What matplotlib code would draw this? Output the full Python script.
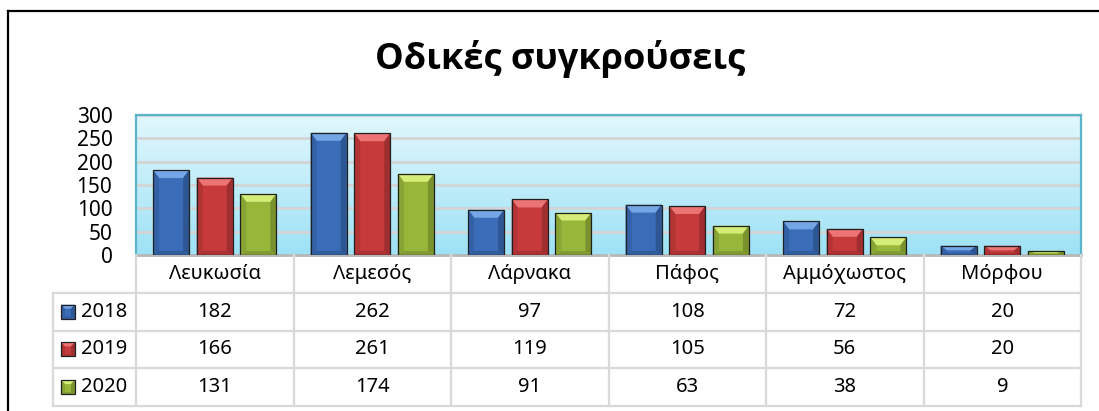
import numpy as np
import matplotlib
matplotlib.use("Agg")
import matplotlib.pyplot as plt
from matplotlib.patches import Polygon, Rectangle
from matplotlib.lines import Line2D
from matplotlib.colors import to_rgb

plt.rcParams['font.family'] = ['Noto Sans', 'DejaVu Sans']

title = "Οδικές συγκρούσεις"
cities = ["Λευκωσία", "Λεμεσός", "Λάρνακα", "Πάφος", "Αμμόχωστος", "Μόρφου"]
years = ["2018", "2019", "2020"]
v2018 = [182, 262, 97, 108, 72, 20]
v2019 = [166, 261, 119, 105, 56, 20]
v2020 = [131, 174, 91, 63, 38, 9]
series = [v2018, v2019, v2020]
yticks = [0, 50, 100, 150, 200, 250, 300]

colors = ["#3a6cb8", "#c63a3b", "#97b63a"]
tops = ["#74a6e6", "#ec7474", "#d4ec78"]


def shade(c, f):
    r, g, b = to_rgb(c)
    return (r * f, g * f, b * f)


def bevel(ax, x0, y0, w, h, col, top, dx, dy, z=3):
    dy = min(dy, h / 2) if h > 0 else max(dy, h / 2)
    dx = min(dx, w / 2)
    x1, y1 = x0 + w, y0 + h
    dyb = dy * 0.5
    ax.add_patch(Rectangle((x0, y0), w, h, fc=col, ec="none", zorder=z))
    ax.add_patch(Polygon([(x0, y1), (x1, y1), (x1 - dx, y1 - dy), (x0 + dx, y1 - dy)],
                         fc=top, ec="none", zorder=z + 0.1))
    ax.add_patch(Polygon([(x0, y0), (x0, y1), (x0 + dx, y1 - dy), (x0 + dx, y0 + dyb)],
                         fc=shade(col, 0.9), ec="none", zorder=z + 0.1))
    ax.add_patch(Polygon([(x1, y0), (x1, y1), (x1 - dx, y1 - dy), (x1 - dx, y0 + dyb)],
                         fc=shade(col, 0.8), ec="none", zorder=z + 0.1))
    ax.add_patch(Polygon([(x0, y0), (x1, y0), (x1 - dx, y0 + dyb), (x0 + dx, y0 + dyb)],
                         fc=shade(col, 0.85), ec="none", zorder=z + 0.1))
    ax.add_patch(Rectangle((x0, y0), w, h, fc="none", ec="#202020", lw=0.9, zorder=z + 0.2))


W, H = 1099, 411
fig = plt.figure(figsize=(W / 100, H / 100), dpi=100)

# chart frame
fig.add_artist(Line2D([7.5 / W, 7.5 / W], [0, 1 - 11 / H], color="black", lw=1.6))
fig.add_artist(Line2D([7.5 / W, 1], [1 - 11 / H, 1 - 11 / H], color="black", lw=1.6))

fig.text(560 / W, 1 - 59 / H, title, ha="center", va="center",
         fontsize=26, fontweight="bold", family=["Open Sans", "DejaVu Sans"])

# plot area
pl, pr, pt, pb = 136, 1081, 115, 255
ax = fig.add_axes([pl / W, 1 - pb / H, (pr - pl) / W, (pb - pt) / H])
n = len(cities)
ax.set_xlim(-0.5, n - 0.5)
ax.set_ylim(0, 300)

grad = np.linspace(0, 1, 100).reshape(-1, 1)
c_top, c_bot = np.array(to_rgb("#e2f7fd")), np.array(to_rgb("#9ee2f5"))
img = c_bot + (c_top - c_bot) * grad[:, :, None]
ax.imshow(img, extent=[-0.5, n - 0.5, 0, 300], origin="lower", aspect="auto", zorder=0)

for t in yticks[1:]:
    ax.axhline(t, color="#d4d4d4", lw=2, zorder=1)

x = np.arange(n)
offs = [-0.277, 0.0, 0.277]
bw = 0.229
px_x = (pr - pl) / n
px_y = (pb - pt) / 300
for vals, off, col, top in zip(series, offs, colors, tops):
    bars = ax.bar(x + off, vals, width=bw, color="none", zorder=2)
    for p in bars.patches:
        bevel(ax, p.get_x(), p.get_y(), p.get_width(), p.get_height(), col, top,
              6 / px_x, 8 / px_y)

ax.set_yticks(yticks)
ax.set_xticks([])
ax.tick_params(axis="y", length=0, pad=17, labelsize=15)
for s in ["left", "right", "top"]:
    ax.spines[s].set_color("#5ab4cc")
    ax.spines[s].set_linewidth(1.6)
ax.spines["bottom"].set_color("#b8b8b8")
ax.spines["bottom"].set_linewidth(2)

# data table
tl, tt, tb = 53, 255, 406
leg_w = (pl - tl) / px_x
tax = fig.add_axes([tl / W, 1 - tb / H, (pr - tl) / W, (tb - tt) / H])
tax.set_xlim(-0.5 - leg_w, n - 0.5)
tax.set_ylim(4, 0)
tax.axis("off")
lc = "#d9d9d9"
lw = 1.6
for xi in np.arange(n + 1) - 0.5:
    tax.plot([xi, xi], [0, 4], color=lc, lw=lw, clip_on=False)
tax.plot([-0.5 - leg_w] * 2, [1, 4], color=lc, lw=lw, clip_on=False)
for yi in [1, 2, 3, 4]:
    tax.plot([-0.5 - leg_w, n - 0.5], [yi, yi], color=lc, lw=lw, clip_on=False)

for i, c in enumerate(cities):
    tax.text(i, 0.5, c, ha="center", va="center", fontsize=14.5)
for r, (yr, vals, col, top) in enumerate(zip(years, series, colors, tops)):
    for i, v in enumerate(vals):
        tax.text(i, r + 1.5, str(v), ha="center", va="center", fontsize=14.5)
    kx = -0.5 - leg_w + 8 / px_x
    kw = 14 / px_x
    kh = 14 / 37.75
    bevel(tax, kx, r + 1.5 + kh / 2, kw, -kh, col, top, 4 / px_x, -4 / 37.75)
    tax.text(-0.5 - leg_w + 28 / px_x, r + 1.5, yr, ha="left", va="center", fontsize=14.5)

fig.savefig("out.png", dpi=100)
